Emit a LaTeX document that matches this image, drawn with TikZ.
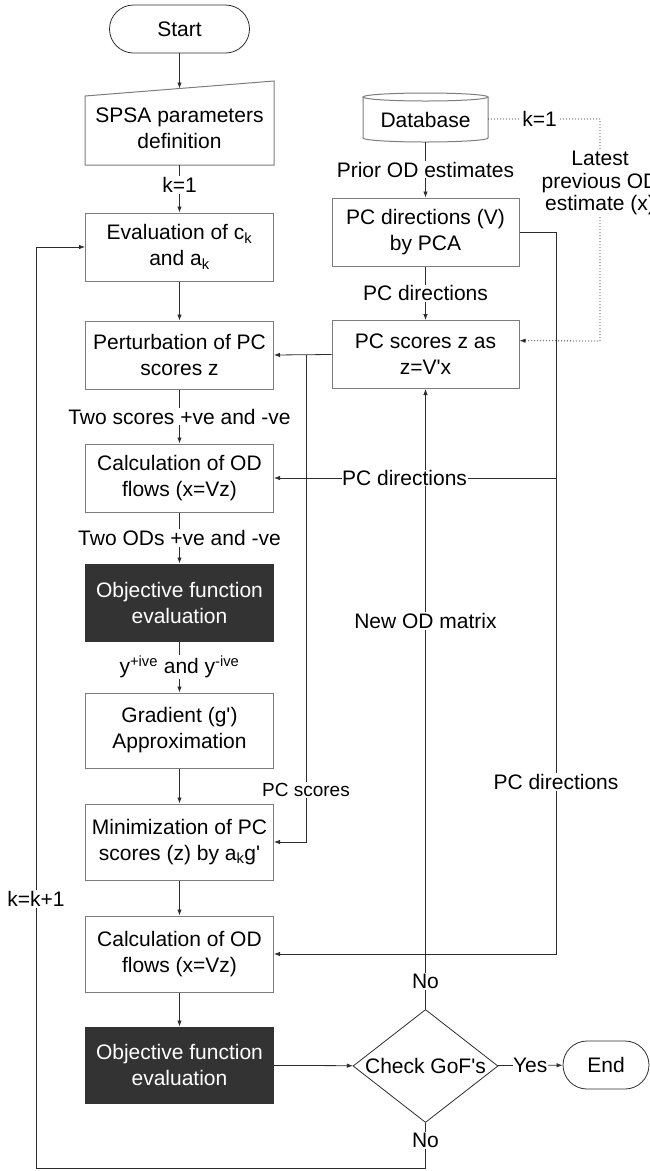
\documentclass[tikz,border=0pt]{standalone}
\usepackage{fontspec}
\setmainfont{Liberation Sans}
\usetikzlibrary{arrows.meta,shapes.geometric,calc}
\definecolor{boxgray}{RGB}{125,125,125}
\definecolor{linecol}{RGB}{45,45,45}
\definecolor{darkfill}{RGB}{51,51,51}
\newcommand{\aq}{\textquotesingle}
\begin{document}
\begin{tikzpicture}[x=1pt,y=-1pt,
  every node/.style={font=\fontsize{21}{26}\selectfont},
  box/.style={draw=boxgray, line width=1pt, minimum width=188pt, inner sep=0pt, align=center, fill=white},
  darkbox/.style={fill=darkfill, draw=darkfill, line width=1pt, minimum width=188pt, inner sep=0pt, align=center, text=white},
  term/.style={draw=linecol, line width=0.8pt, rounded corners=24pt, minimum height=48pt, inner sep=0pt},
  conn/.style={draw=linecol, line width=0.8pt},
  arr/.style={conn, -{Latex[length=6pt,width=4.5pt]}},
  lbl/.style={fill=white, inner sep=1pt, align=center},
  dots/.style={dash pattern=on 1pt off 2pt},
]
\useasboundingbox (0,0) rectangle (650,1171);

% ---- left column ----
\node[term, minimum width=140pt] (start) at (179.5,29) {Start};
\draw[draw=boxgray, line width=1pt] (85,96) -- (274,81) -- (274,165) -- (85,165) -- cycle;
\node[inner sep=0pt, align=center] (spsa) at (179.5,128) {SPSA parameters\\definition};
\coordinate (spsatop) at (179.5,88.5);
\coordinate (spsabot) at (179.5,165);

\node[box, minimum height=68pt] (eval) at (179.5,247) {Evaluation of c\textsubscript{k}\\and a\textsubscript{k}};
\node[box, minimum height=68pt] (pert) at (179.5,355) {Perturbation of PC\\scores z};
\node[box, minimum height=68pt] (calc1) at (179.5,478) {Calculation of OD\\flows (x=Vz)};
\node[darkbox, minimum height=77pt] (obj1) at (179.5,602.5) {Objective function\\evaluation};
\node[box, minimum height=75pt] (grad) at (179.5,730.5) {Gradient (g\aq)\\Approximation};
\node[box, minimum height=76pt] (mini) at (179.5,842) {Minimization of PC\\scores (z) by a\textsubscript{k}g\aq};
\node[box, minimum height=76pt] (calc2) at (179.5,954) {Calculation of OD\\flows (x=Vz)};
\node[darkbox, minimum height=76pt] (obj2) at (179.5,1065) {Objective function\\evaluation};

\node[diamond, draw=linecol, line width=0.8pt, aspect=1.28, minimum width=145pt, minimum height=113pt, inner sep=0pt] (gof) at (425.5,1066) {Check GoF\aq s};
\node[term, minimum width=86pt] (end) at (606,1065) {End};

% ---- right column ----
\draw[draw=boxgray, line width=1pt, fill=white] (363,97) -- (363,138) arc[start angle=180,end angle=0,x radius=62.5,y radius=4] -- (488,97);
\draw[draw=boxgray, line width=1pt] (425.5,97) ellipse[x radius=62.5,y radius=4];
\node[inner sep=0pt] (db) at (425.5,120) {Database};
\coordinate (dbbot) at (425.5,142);
\coordinate (dbright) at (488,119);

\node[box, minimum width=187pt, minimum height=68pt] (pcd) at (425.5,232) {PC directions (V)\\by PCA};
\node[box, minimum width=187pt, minimum height=68pt] (pcs) at (425.5,354.5) {PC scores z as\\z=V\aq x};

% ---- connectors ----
\draw[arr] (start) -- (spsatop);
\draw[arr] (spsabot) -- node[lbl,pos=0.42]{k=1} (eval);
\draw[arr] (eval) -- (pert);
\draw[arr] (pert) -- node[lbl]{Two scores +ve and -ve} (calc1);
\draw[arr] (calc1) -- node[lbl]{Two ODs +ve and -ve} (obj1);
\draw[arr] (obj1) -- node[lbl]{y\textsuperscript{+ive} and y\textsuperscript{-ive}} (grad);
\draw[arr] (grad) -- (mini);
\draw[arr] (mini) -- (calc2);
\draw[arr] (calc2) -- (obj2);
\draw[arr] (obj2) -- (gof);
\draw[arr] (gof) -- node[lbl, inner sep=0.5pt]{Yes} (end);

% New OD matrix
\draw[arr] (gof.north) -- node[lbl,pos=0.045]{No} node[lbl,pos=0.626]{New OD matrix} (pcs.south);

% loop back
\coordinate (loopbr) at (425.5,1168);
\coordinate (loopbl) at (36,1168);
\coordinate (looptl) at (36,247);
\draw[arr] (gof.south) -- node[lbl,pos=0.39]{No} (loopbr) -- (loopbl) -- node[lbl,pos=0.292]{k=k+1} (looptl) -- (eval.west);

% database
\draw[arr] (dbbot) -- node[lbl]{Prior OD estimates} (pcd);
\draw[arr] (pcd) -- node[lbl]{PC directions} (pcs);

% dotted latest estimate
\coordinate (dtr) at (600,119);
\coordinate (dbr) at (600,341);
\coordinate (pcsin) at ($(pcs.north east)!0.3!(pcs.south east)$);
\draw[arr, dots] (dbright) -- node[lbl,pos=0.46]{k=1} (dtr) -- node[lbl,pos=0.29,font=\fontsize{21}{22.5}\selectfont]{Latest\\previous OD\\estimate (x)} (dbr) -- (pcsin);

% PC scores to perturbation and minimization
\draw[arr] (pcs.west) -- (pert.east);
\coordinate (brs) at (306,354.5);
\coordinate (brs2) at (306,842);
\draw[arr] (brs) -- node[lbl,pos=0.893,font=\fontsize{19}{23}\selectfont]{PC scores} (brs2) -- (mini.east);

% PC directions to calculations
\coordinate (pdr) at (556,232);
\coordinate (pdm) at (556,478);
\coordinate (pdb) at (556,954);
\draw[arr] (pcd.east) -- (pdr) -- node[lbl,pos=0.762]{PC directions} (pdb) -- (calc2.east);
\draw[arr] (pdm) -- node[lbl,pos=0.537,inner sep=0.5pt]{PC directions} (calc1.east);
\end{tikzpicture}
\end{document}
